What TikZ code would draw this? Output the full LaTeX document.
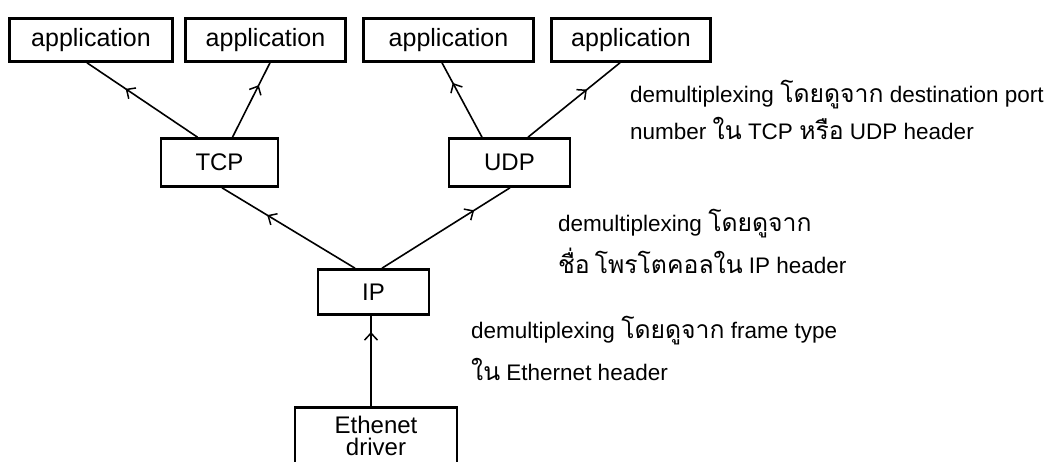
\documentclass[tikz,border=0pt]{standalone}
\usepackage{fontspec}
\setmainfont{Liberation Sans}
\newfontfamily\thaifont[Script=Thai,Scale=1.1]{Loma}
\newcommand\thtxt[1]{{\thaifont #1}}
\usetikzlibrary{arrows.meta,decorations.markings}
\tikzset{
  layer/.style={draw, line width=2.6pt, rectangle, inner sep=0pt,
    font=\fontsize{24}{22}\selectfont},
  appbox/.style={layer, minimum height=43pt, font=\fontsize{25}{30}\selectfont},
  link/.style={line width=1.6pt},
  midarrow/.style={postaction={decorate, decoration={markings,
    mark=at position #1 with {\arrow[line width=1.5pt]{Straight Barb[length=7pt,width=13pt]}}}}},
  note/.style={anchor=west, inner sep=0pt, align=left}
}
\begin{document}
\begin{tikzpicture}[x=1pt,y=-1pt]
\useasboundingbox (0,0) rectangle (1058,462);
\fill[white] (0,0) rectangle (1058,462);
\clip (0,0) rectangle (1058,462);

% application layer
\node[appbox, minimum width=163pt] (app1) at (91,40)    {application};
\node[appbox, minimum width=160pt] (app2) at (265.5,40) {application};
\node[appbox, minimum width=170pt] (app3) at (448.5,40) {application};
\node[appbox, minimum width=159pt] (app4) at (631,40)   {application};

% transport layer
\node[layer, minimum width=117pt, minimum height=48pt] (tcp) at (219.5,162.5) {TCP};
\node[layer, minimum width=121pt, minimum height=48pt] (udp) at (509.5,162.5) {UDP};

% network layer
\node[layer, minimum width=111pt, minimum height=45pt] (ip) at (373.5,292) {IP};

% link layer (box runs off the bottom edge)
\node[layer, minimum width=162pt, anchor=north, align=center,
      inner ysep=9pt, text depth=60pt] (eth) at (376,406) {Ethenet\\driver};

% connectors, each with its arrowhead part way along
\draw[link, midarrow=0.65] ([xshift=-22pt]tcp.north) -- ([xshift=-4pt]app1.south);
\draw[link, midarrow=0.70] ([xshift=13pt]tcp.north)  -- ([xshift=4.5pt]app2.south);
\draw[link, midarrow=0.73] ([xshift=-27.5pt]udp.north) -- ([xshift=-6.5pt]app3.south);
\draw[link, midarrow=0.64] ([xshift=18.5pt]udp.north)  -- ([xshift=-11pt]app4.south);
\draw[link, midarrow=0.66] ([xshift=-18.5pt]ip.north) -- ([xshift=2.5pt]tcp.south);
\draw[link, midarrow=0.72] ([xshift=8.5pt]ip.north)   -- ([xshift=0.5pt]udp.south);
\draw[link, midarrow=0.82] ([xshift=-5pt]eth.north) -- ([xshift=-5pt]eth.north |- ip.south);

% explanatory notes
\node[note, font=\fontsize{22.5}{37}\selectfont] (noteport) at (630,110)
  {demultiplexing \thtxt{โดยดูจาก} destination port\\
   number \thtxt{ใน} TCP \thtxt{หรือ} UDP header};
\node[note, font=\fontsize{22.5}{42}\selectfont] (noteproto) at (558,241)
  {demultiplexing \thtxt{โดยดูจาก}\\
   \thtxt{ชื่อ\hspace{0.2em}โพรโตคอลใน} IP header};
\node[note, font=\fontsize{22.5}{42}\selectfont] (noteframe) at (471,348)
  {demultiplexing \thtxt{โดยดูจาก} frame type\\
   \thtxt{ใน} Ethernet header};
\end{tikzpicture}
\end{document}
